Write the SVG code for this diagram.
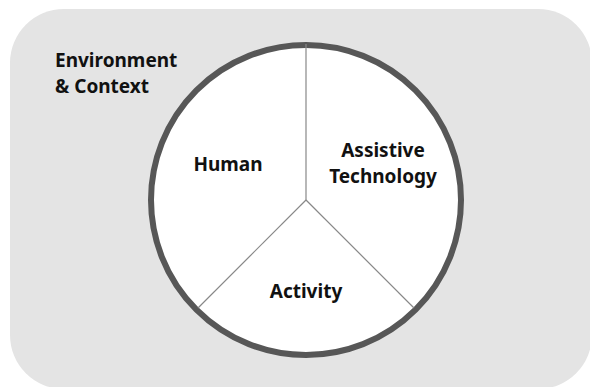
<svg xmlns="http://www.w3.org/2000/svg" width="590" height="387" viewBox="0 0 590 387">
<style>
.lbl{font-family:"Noto Sans","Open Sans","Liberation Sans",sans-serif;font-weight:700;font-size:19px;fill:#111;}
.div{stroke:#888;stroke-width:1.2;fill:none;}
</style>
<rect width="590" height="387" fill="#ffffff"/>
<g id="environment">
<rect x="10" y="9" width="582" height="380" rx="54" ry="54" fill="#e4e4e4"/>
<text class="lbl" x="55" y="67">Environment</text>
<text class="lbl" x="55" y="93">&amp; Context</text>
</g>
<g id="circle">
<circle cx="306" cy="200" r="155" fill="#ffffff" stroke="#575757" stroke-width="6"/>
</g>
<g id="connectors">
<line class="div" x1="306" y1="200" x2="306" y2="44"/>
<line class="div" x1="306" y1="200" x2="198" y2="308"/>
<line class="div" x1="306" y1="200" x2="414" y2="308"/>
</g>
<g id="human">
<text class="lbl" x="228" y="171" text-anchor="middle">Human</text>
</g>
<g id="assistive">
<text class="lbl" x="383" y="157" text-anchor="middle">Assistive</text>
<text class="lbl" x="383" y="183" text-anchor="middle">Technology</text>
</g>
<g id="activity">
<text class="lbl" x="306" y="298" text-anchor="middle">Activity</text>
</g>
</svg>
